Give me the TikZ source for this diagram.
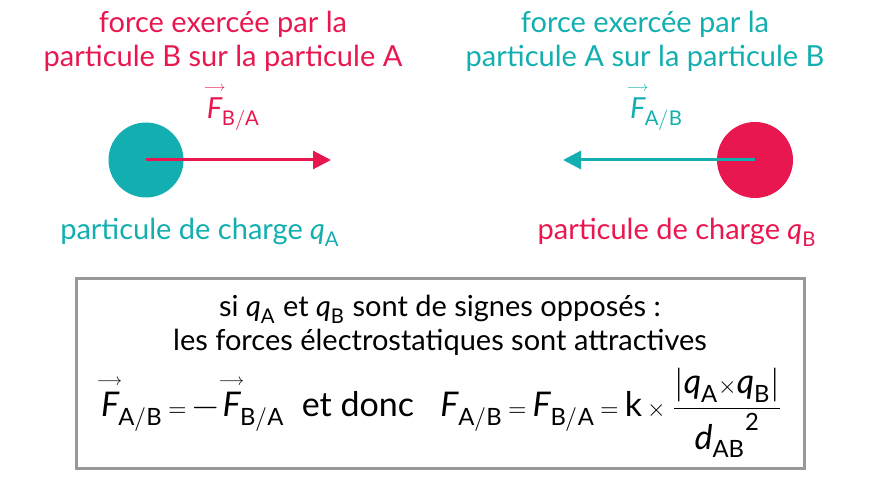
\documentclass[tikz,border=0pt]{standalone}
\usepackage{fontspec}
\setmainfont{Lato}
\usepackage{unicode-math}
\setmathfont{Latin Modern Math}
\setmathfont[range={up/{Latin,latin,num}}]{Lato}
\setmathfont[range={it/{Latin,latin}}]{Lato Italic}
\usetikzlibrary{arrows.meta}
\definecolor{rose}{HTML}{E8174F}
\definecolor{sarcelle}{HTML}{13AFB0}
\newcommand{\vF}[1]{\overset{\scriptscriptstyle\longrightarrow}{F}_{\!\mathrm{#1}}}
\tikzset{
  txt/.style={font=\fontsize{14.5}{17}\selectfont, align=center, inner sep=0pt},
  vec/.style={line width=1.5pt, -{Triangle[length=9pt,width=9pt]}}
}
\begin{document}
\begin{tikzpicture}[x=0.5pt,y=-0.5pt]
      \useasboundingbox (0,0) rectangle (880,480);
      \node[txt, rose] (tA) at (223,41) {force exercée par la\\particule B sur la particule A};
      \node[txt, sarcelle] (tB) at (645,41) {force exercée par la\\particule A sur la particule B};
      \node[circle, fill=sarcelle, minimum size=37.5pt, inner sep=0pt] (A) at (146,160) {};
      \node[circle, fill=rose, minimum size=38pt, inner sep=0pt] (B) at (755,160) {};
      \coordinate (fA) at (331,160);
      \coordinate (fB) at (563,160);
      \draw [vec, rose] (A.center) -- (fA);
      \draw [vec, sarcelle] (B.center) -- (fB);
      \node[txt, rose] (lBA) at (232,106) {$\vF{B/A}$};
      \node[txt, sarcelle] (lAB) at (655,106) {$\vF{A/B}$};
      \node[txt, sarcelle] (cA) at (200,232) {particule de charge $q_{\mathrm{A}}$};
      \node[txt, rose] (cB) at (677,232) {particule de charge $q_{\mathrm{B}}$};
      \draw [line width=1.5pt, gray!80] (76,279) rectangle (804,469);
      \node[txt] (r1) at (440,325) {si $q_{\mathrm{A}}$ et $q_{\mathrm{B}}$ sont de signes opposés :\\les forces électrostatiques sont attractives};
      \node[txt, font=\fontsize{17}{19}\selectfont] (r2) at (440,413) {$\vF{A/B} \,{\scriptstyle=}\, {-}\vF{B/A}$\ \ et donc\ \ \ $F_{\mathrm{A/B}} \,{\scriptstyle=}\, F_{\mathrm{B/A}} \,{\scriptstyle=}\, \mathrm{k} \,{\scriptstyle\times}\, \dfrac{|q_{\mathrm{A}} {\scriptstyle\times} q_{\mathrm{B}}|}{{d_{\mathrm{AB}}}^{2}}$};
    \end{tikzpicture}
\end{document}
